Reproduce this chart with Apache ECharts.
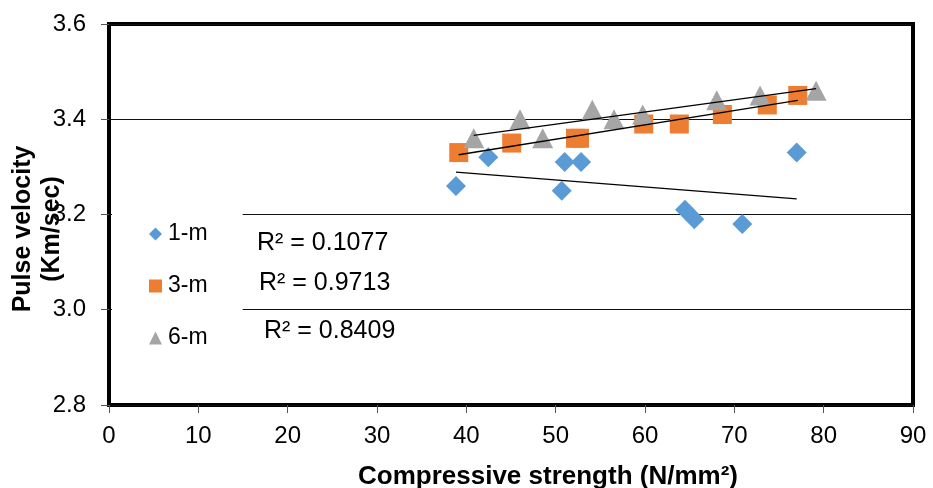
<!DOCTYPE html>
<html>
<head>
<meta charset="utf-8">
<script src="https://cdn.jsdelivr.net/npm/echarts@6/dist/echarts.min.js"></script>
<style>html,body{margin:0;padding:0;background:#fff}#c{width:933px;height:488px}</style>
</head>
<body>
<div id="c"></div>
<script>
// ---- data ----
var seriesNames = ['1-m', '3-m', '6-m'];
var x1m = [38.84, 42.46, 50.68, 51.01, 52.84, 64.48, 65.52, 70.89, 76.98];
var y1m = [3.26, 3.32, 3.25, 3.31, 3.31, 3.21, 3.19, 3.18, 3.33];
var x3m = [39.15, 45.08, 52.22, 52.67, 59.86, 63.84, 68.66, 73.69, 77.10];
var y3m = [3.33, 3.35, 3.36, 3.36, 3.39, 3.39, 3.41, 3.43, 3.45];
var x6m = [40.83, 46.01, 48.55, 54.10, 56.53, 59.74, 68.03, 72.88, 79.15];
var y6m = [3.36, 3.40, 3.36, 3.42, 3.40, 3.41, 3.44, 3.45, 3.46];
var r2Labels = ['R\u00b2 = 0.1077', 'R\u00b2 = 0.9713', 'R\u00b2 = 0.8409'];
var xTitle = 'Compressive strength (N/mm\u00b2)';
var yTitle = 'Pulse velocity\n(Km/sec)';

var colors = ['#5B9BD5', '#ED7D31', '#A5A5A5'];
var FONT = "'Liberation Sans', Arial, sans-serif";

function pairs(xs, ys) { return xs.map(function (x, i) { return [x, ys[i]]; }); }
function trend(xs, ys) {
  var n = xs.length, mx = 0, my = 0, sxy = 0, sxx = 0;
  for (var i = 0; i < n; i++) { mx += xs[i]; my += ys[i]; }
  mx /= n; my /= n;
  for (var j = 0; j < n; j++) { sxy += (xs[j] - mx) * (ys[j] - my); sxx += (xs[j] - mx) * (xs[j] - mx); }
  var b = sxy / sxx, a = my - b * mx;
  var lo = Math.min.apply(null, xs), hi = Math.max.apply(null, xs);
  return [[lo, a + b * lo], [hi, a + b * hi]];
}

var chart = echarts.init(document.getElementById('c'), null, { renderer: 'canvas' });
var option = {
  animation: false,
  backgroundColor: '#ffffff',
  textStyle: { fontFamily: FONT },
  grid: { left: 109, right: 20, top: 24, bottom: 83, containLabel: false, outerBoundsMode: 'none',
          show: true, borderColor: '#000', borderWidth: 4, backgroundColor: 'transparent' },
  xAxis: {
    type: 'value', min: 0, max: 90, interval: 10,
    axisLine: { show: false },
    axisTick: { show: true, length: 8, lineStyle: { color: '#555', width: 1 } },
    axisLabel: { fontSize: 24, color: '#000', margin: 19, fontFamily: FONT },
    splitLine: { show: false },
    name: xTitle, nameLocation: 'middle', nameGap: 59, nameMoveOverlap: false,
    nameTextStyle: { fontSize: 26, fontWeight: 'bold', color: '#000', fontFamily: FONT, padding: [0, 0, 0, 74] }
  },
  yAxis: {
    type: 'value', min: 2.8, max: 3.6, interval: 0.2,
    axisLine: { show: false },
    axisTick: { show: true, length: 8, lineStyle: { color: '#555', width: 1 } },
    axisLabel: { fontSize: 24, color: '#000', margin: 23, fontFamily: FONT, formatter: function (v) { return v.toFixed(1); } },
    splitLine: { show: true, lineStyle: { color: '#111', width: 1 } },
    name: yTitle, nameLocation: 'middle', nameRotate: 90, nameGap: 42, nameMoveOverlap: false,
    nameTextStyle: { fontSize: 25, fontWeight: 'bold', color: '#000', lineHeight: 29, fontFamily: FONT, padding: [0, 29, 0, 0] }
  },
  legend: {
    data: seriesNames,
    orient: 'vertical', left: 112, top: 206,
    padding: [15, 35, 15, 37],
    backgroundColor: '#ffffff',
    itemWidth: 13, itemHeight: 13, itemGap: 26,
    textStyle: { fontSize: 23, color: '#000', lineHeight: 24, fontFamily: FONT, padding: [2, 0, 0, 1] }
  },
  graphic: [
    { type: 'text', x: 257, y: 243, z: 100, style: { text: r2Labels[0], fontSize: 25, fontFamily: FONT, fill: '#000', verticalAlign: 'middle' } },
    { type: 'text', x: 259, y: 283, z: 100, style: { text: r2Labels[1], fontSize: 25, fontFamily: FONT, fill: '#000', verticalAlign: 'middle' } },
    { type: 'text', x: 264, y: 331, z: 100, style: { text: r2Labels[2], fontSize: 25, fontFamily: FONT, fill: '#000', verticalAlign: 'middle' } }
  ],
  series: [
    { name: seriesNames[0], type: 'scatter', symbol: 'diamond', symbolSize: 20, itemStyle: { color: colors[0], opacity: 1 }, data: pairs(x1m, y1m), z: 2 },
    { name: seriesNames[1], type: 'scatter', symbol: 'rect', symbolSize: 19, itemStyle: { color: colors[1], opacity: 1 }, data: pairs(x3m, y3m), z: 3 },
    { name: seriesNames[2], type: 'scatter', symbol: 'triangle', symbolSize: [21, 20], itemStyle: { color: colors[2], opacity: 1 }, data: pairs(x6m, y6m), z: 4 },
    { name: 'trend1', type: 'line', data: trend(x1m, y1m), symbol: 'none', lineStyle: { color: '#000', width: 1.3 }, z: 5, silent: true },
    { name: 'trend3', type: 'line', data: trend(x3m, y3m), symbol: 'none', lineStyle: { color: '#000', width: 1.3 }, z: 5, silent: true },
    { name: 'trend6', type: 'line', data: trend(x6m, y6m), symbol: 'none', lineStyle: { color: '#000', width: 1.3 }, z: 5, silent: true }
  ]
};
chart.setOption(option);
</script>
</body>
</html>
